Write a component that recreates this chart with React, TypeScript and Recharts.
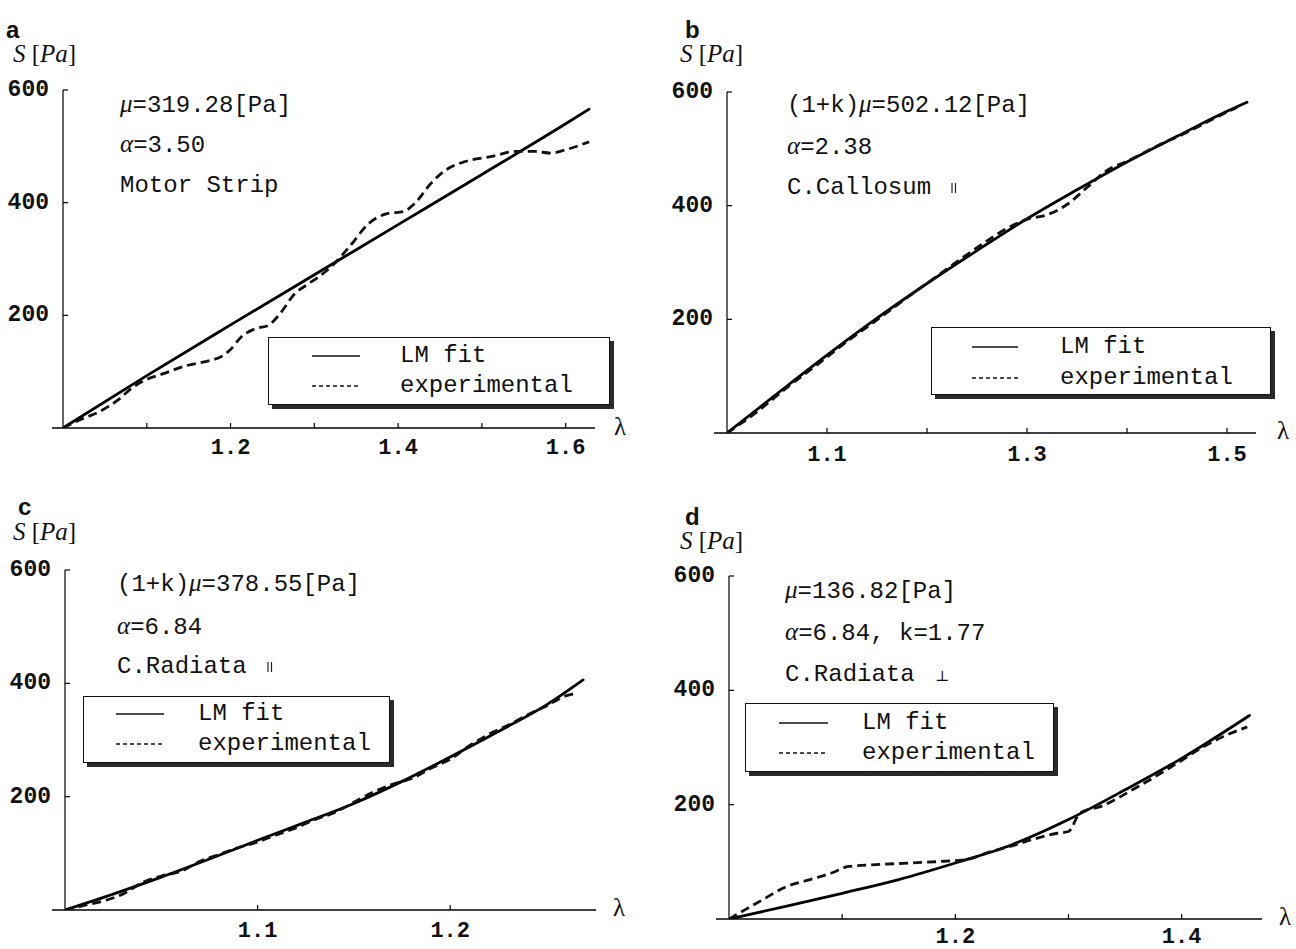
import React from 'react';
import { LineChart, Line, XAxis, YAxis, ReferenceLine, Legend } from 'recharts';

// ---------- Panel a : Motor Strip ----------
const lambdaFitA = [1.0, 1.1, 1.2, 1.3, 1.4, 1.5, 1.6, 1.628];
const stressFitA = [0, 93, 183, 272, 361, 450, 540, 566];
const lambdaExpA = [1.0, 1.019, 1.042, 1.065, 1.084, 1.098, 1.121, 1.148, 1.176, 1.188, 1.199, 1.213, 1.231, 1.245, 1.259, 1.277, 1.291, 1.305, 1.324, 1.342, 1.365, 1.388, 1.406, 1.42, 1.439, 1.457, 1.48, 1.512, 1.54, 1.563, 1.582, 1.6, 1.628];
const stressExpA = [0, 14, 28, 49, 73, 85, 97, 111, 120, 126, 138, 162, 177, 182, 203, 239, 254, 268, 292, 322, 363, 381, 384, 399, 434, 458, 473, 482, 491, 491, 488, 494, 508];
const xTicksA = [1.1, 1.2, 1.3, 1.4, 1.5, 1.6];
const xLabelsA = ['1.2', '1.4', '1.6'];
const notesA = ['μ=319.28[Pa]', 'α=3.50', 'Motor Strip'];

// ---------- Panel b : Corpus Callosum ----------
const lambdaFitB = [1.0, 1.05, 1.1, 1.15, 1.2, 1.25, 1.3, 1.35, 1.4, 1.45, 1.5, 1.52];
const stressFitB = [0, 69, 137, 202, 263, 321, 377, 428, 477, 522, 566, 582];
const lambdaExpB = [1.0, 1.03, 1.06, 1.09, 1.12, 1.15, 1.18, 1.21, 1.24, 1.26, 1.28, 1.3, 1.32, 1.34, 1.36, 1.38, 1.4, 1.43, 1.46, 1.49, 1.51];
const stressExpB = [0, 37, 80, 120, 161, 199, 238, 276, 314, 338, 360, 376, 384, 402, 432, 462, 478, 505, 529, 556, 573];
const xTicksB = [1.1, 1.2, 1.3, 1.4, 1.5];
const xLabelsB = ['1.1', '1.3', '1.5'];
const notesB = ['(1+k)μ=502.12[Pa]', 'α=2.38', 'C.Callosum ||'];

// ---------- Panel c : Corona Radiata parallel ----------
const lambdaFitC = [1.0, 1.025, 1.05, 1.075, 1.1, 1.125, 1.15, 1.175, 1.2, 1.225, 1.25, 1.269];
const stressFitC = [0, 28, 58, 90, 123, 155, 188, 227, 270, 315, 362, 406];
const lambdaExpC = [1.0, 1.01, 1.02, 1.03, 1.04, 1.05, 1.06, 1.07, 1.08, 1.09, 1.1, 1.11, 1.12, 1.13, 1.14, 1.15, 1.16, 1.17, 1.18, 1.19, 1.2, 1.21, 1.22, 1.23, 1.24, 1.25, 1.26, 1.266];
const stressExpC = [0, 8, 16, 28, 48, 60, 68, 86, 98, 110, 120, 133, 145, 160, 172, 190, 208, 222, 232, 250, 266, 290, 310, 326, 344, 360, 378, 382];
const xTicksC = [1.1, 1.2];
const xLabelsC = ['1.1', '1.2'];
const notesC = ['(1+k)μ=378.55[Pa]', 'α=6.84', 'C.Radiata ||'];

// ---------- Panel d : Corona Radiata perpendicular ----------
const lambdaFitD = [1.0, 1.05, 1.1, 1.15, 1.2, 1.25, 1.3, 1.35, 1.4, 1.46];
const stressFitD = [0, 22, 45, 69, 98, 130, 174, 226, 281, 356];
const lambdaExpD = [1.0, 1.014, 1.03, 1.05, 1.07, 1.09, 1.106, 1.13, 1.16, 1.19, 1.21, 1.23, 1.25, 1.27, 1.29, 1.3, 1.31, 1.33, 1.36, 1.39, 1.42, 1.44, 1.458];
const stressExpD = [0, 16, 34, 56, 68, 80, 92, 95, 98, 101, 104, 117, 128, 140, 150, 153, 185, 198, 230, 265, 302, 322, 336];
const xTicksD = [1.1, 1.2, 1.3, 1.4];
const xLabelsD = ['1.2', '1.4'];
const notesD = ['μ=136.82[Pa]', 'α=6.84, k=1.77', 'C.Radiata ⊥'];

const yTicks = [200, 400, 600];
const seriesNames = ['LM fit', 'experimental'];

const MONO = '"Liberation Mono", "DejaVu Sans Mono", monospace';
const SERIF = '"Liberation Serif", "DejaVu Serif", serif';
const SANS = '"Liberation Sans", Arial, sans-serif';

const toPoints = (xs: number[], ys: number[]) => xs.map((x, i) => ({ x, s: ys[i] }));

type Panel = {
  key: string;
  box: { left: number; top: number; width: number; height: number };
  margin: { top: number; left: number; right: number; bottom: number };
  xMax: number;
  axisStart: number;
  xTicks: number[];
  xLabels: string[];
  labelDy: number;
  fit: { x: number; s: number }[];
  exp: { x: number; s: number }[];
  legend: { left: number; top: number; width: number; height: number; sampleX: number; sampleW: number; textX: number; rows: number[] };
  letter: { left: number; cy: number };
  sLabel: { left: number; cy: number };
  notes: { left: number; cys: number[]; lines: string[] };
  lambda: { left: number; cy: number };
};

const Y_AXIS_W = 60;
const X_AXIS_H = 26;

const panels: Panel[] = [
  {
    key: 'a',
    box: { left: 0, top: 0, width: 648, height: 474 },
    margin: { top: 90, left: 63, right: 53, bottom: 46 },
    xMax: 1.635, axisStart: 0.987,
    xTicks: xTicksA, xLabels: xLabelsA, labelDy: 20,
    fit: toPoints(lambdaFitA, stressFitA), exp: toPoints(lambdaExpA, stressExpA),
    legend: { left: 268, top: 337, width: 342, height: 68, sampleX: 43, sampleW: 48, textX: 131, rows: [18, 48] },
    letter: { left: 6, cy: 30 }, sLabel: { left: 13, cy: 53 },
    notes: { left: 120, cys: [104, 144, 186], lines: notesA },
    lambda: { left: 614, cy: 426 },
  },
  {
    key: 'b',
    box: { left: 648, top: 0, width: 648, height: 474 },
    margin: { top: 92, left: 79, right: 40, bottom: 41 },
    xMax: 1.529, axisStart: 0.987,
    xTicks: xTicksB, xLabels: xLabelsB, labelDy: 22,
    fit: toPoints(lambdaFitB, stressFitB), exp: toPoints(lambdaExpB, stressExpB),
    legend: { left: 931, top: 327, width: 340, height: 68, sampleX: 40, sampleW: 46, textX: 128, rows: [19, 50] },
    letter: { left: 685, cy: 30 }, sLabel: { left: 680, cy: 53 },
    notes: { left: 787, cys: [104, 146, 188], lines: notesB },
    lambda: { left: 1277, cy: 430 },
  },
  {
    key: 'c',
    box: { left: 0, top: 474, width: 648, height: 475 },
    margin: { top: 96, left: 65, right: 52, bottom: 39 },
    xMax: 1.2757, axisStart: 0.9933,
    xTicks: xTicksC, xLabels: xLabelsC, labelDy: 21,
    fit: toPoints(lambdaFitC, stressFitC), exp: toPoints(lambdaExpC, stressExpC),
    legend: { left: 83, top: 696, width: 307, height: 67, sampleX: 32, sampleW: 48, textX: 114, rows: [17, 47] },
    letter: { left: 18, cy: 507 }, sLabel: { left: 13, cy: 531 },
    notes: { left: 117, cys: [583, 626, 667], lines: notesC },
    lambda: { left: 613, cy: 907 },
  },
  {
    key: 'd',
    box: { left: 648, top: 474, width: 648, height: 475 },
    margin: { top: 102, left: 81, right: 34, bottom: 30 },
    xMax: 1.471, axisStart: 0.9885,
    xTicks: xTicksD, xLabels: xLabelsD, labelDy: 18,
    fit: toPoints(lambdaFitD, stressFitD), exp: toPoints(lambdaExpD, stressExpD),
    legend: { left: 745, top: 703, width: 309, height: 69, sampleX: 33, sampleW: 49, textX: 116, rows: [19, 49] },
    letter: { left: 685, cy: 517 }, sLabel: { left: 680, cy: 540 },
    notes: { left: 785, cys: [590, 632, 675], lines: notesD },
    lambda: { left: 1279, cy: 916 },
  },
];

const YTick = (props: any) => {
  const { x, y, payload } = props;
  return (
    <g>
      <line x1={x} x2={x + 5} y1={y} y2={y} stroke="#000" strokeWidth={1.2} />
      <text x={x - 14} y={y} textAnchor="end" dominantBaseline="central" fontFamily={MONO} fontWeight="bold" fontSize={23} fill="#111">
        {payload.value}
      </text>
    </g>
  );
};

const makeXTick = (labels: string[], dy: number) => (props: any) => {
  const { x, y, payload } = props;
  const txt = Number(payload.value).toFixed(1);
  return (
    <g>
      <line x1={x} x2={x} y1={y} y2={y - 5} stroke="#000" strokeWidth={1.2} />
      {labels.includes(txt) ? (
        <text x={x} y={y + dy} textAnchor="middle" dominantBaseline="central" fontFamily={MONO} fontWeight="bold" fontSize={22} fill="#111">
          {txt}
        </text>
      ) : null}
    </g>
  );
};

const renderNote = (s: string) => {
  const out: React.ReactNode[] = [];
  const chars = Array.from(s);
  for (let i = 0; i < chars.length; i++) {
    const ch = chars[i];
    if (ch === 'μ' || ch === 'α') {
      out.push(
        <span key={i} style={{ fontFamily: SERIF, fontStyle: 'italic', fontSize: 25 }}>
          {ch}
        </span>
      );
    } else if (ch === '|' && chars[i + 1] === '|') {
      out.push(
        <span key={i} style={{ display: 'inline-block', marginLeft: 6, verticalAlign: 'middle' }}>
          <svg width={6} height={12} style={{ display: 'block' }}>
            <line x1={1} x2={1} y1={1} y2={11} stroke="#222" strokeWidth={1.2} />
            <line x1={4.5} x2={4.5} y1={1} y2={11} stroke="#222" strokeWidth={1.2} />
          </svg>
        </span>
      );
      i++;
    } else if (ch === '⊥') {
      out.push(
        <span key={i} style={{ fontFamily: SERIF, fontSize: 15, marginLeft: 6 }}>
          {ch}
        </span>
      );
    } else {
      out.push(<span key={i}>{ch}</span>);
    }
  }
  return out;
};

const makeLegend = (p: Panel) => (props: any) => {
  const L = p.legend;
  const items = (props && props.payload && props.payload.length ? props.payload.map((e: any) => e.value) : seriesNames) as string[];
  return (
    <div
      style={{
        position: 'relative',
        width: L.width,
        height: L.height,
        boxSizing: 'border-box',
        background: '#fff',
        border: '1.5px solid #111',
        boxShadow: '4px 4px 0 #2a2a2a',
      }}
    >
      {items.map((name, i) => (
        <React.Fragment key={name}>
          <svg style={{ position: 'absolute', left: L.sampleX, top: L.rows[i] - 3 }} width={L.sampleW} height={6}>
            <line x1={0} x2={L.sampleW} y1={3} y2={3} stroke="#111" strokeWidth={1.3} strokeDasharray={i === 1 ? '4 3' : undefined} />
          </svg>
          <div
            style={{
              position: 'absolute',
              left: L.textX,
              top: L.rows[i],
              transform: 'translateY(-50%)',
              fontFamily: MONO,
              fontSize: 24,
              lineHeight: 1,
              color: '#111',
              whiteSpace: 'nowrap',
            }}
          >
            {name}
          </div>
        </React.Fragment>
      ))}
    </div>
  );
};

const PanelChart = ({ p }: { p: Panel }) => {
  const XTick = makeXTick(p.xLabels, p.labelDy);
  const margin = {
    top: p.margin.top,
    right: p.margin.right,
    left: p.margin.left - Y_AXIS_W,
    bottom: p.margin.bottom - X_AXIS_H,
  };
  return (
    <div style={{ position: 'absolute', left: p.box.left, top: p.box.top, width: p.box.width, height: p.box.height }}>
      <LineChart width={p.box.width} height={p.box.height} margin={margin}>
        <XAxis
          type="number"
          dataKey="x"
          domain={[1, p.xMax]}
          ticks={p.xTicks}
          interval={0}
          allowDataOverflow
          axisLine={false}
          tickLine={false}
          tickSize={0}
          tickMargin={0}
          height={X_AXIS_H}
          tick={XTick}
        />
        <YAxis
          type="number"
          domain={[0, 600]}
          ticks={yTicks}
          interval={0}
          allowDataOverflow
          axisLine={{ stroke: '#000', strokeWidth: 1.2 }}
          tickLine={false}
          tickSize={0}
          tickMargin={0}
          width={Y_AXIS_W}
          tick={YTick}
        />
        <ReferenceLine
          segment={[{ x: p.axisStart, y: 0 }, { x: p.xMax, y: 0 }]}
          stroke="#000"
          strokeWidth={1.3}
          ifOverflow="visible"
        />
        <Line
          data={p.fit}
          dataKey="s"
          name={seriesNames[0]}
          type="monotone"
          stroke="#000"
          strokeWidth={2.8}
          strokeLinecap="round"
          dot={false}
          activeDot={false}
          isAnimationActive={false}
        />
        <Line
          data={p.exp}
          dataKey="s"
          name={seriesNames[1]}
          type="monotone"
          stroke="#111"
          strokeWidth={2.8}
          strokeDasharray="9 5"
          dot={false}
          activeDot={false}
          isAnimationActive={false}
        />
        <Legend
          layout="horizontal"
          verticalAlign="middle"
          align="center"
          content={makeLegend(p)}
          wrapperStyle={{
            left: p.legend.left - p.box.left,
            top: p.legend.top - p.box.top,
            width: p.legend.width + 6,
            height: p.legend.height + 6,
          }}
        />
      </LineChart>
    </div>
  );
};

const centered = (left: number, cy: number): React.CSSProperties => ({
  position: 'absolute',
  left,
  top: cy,
  transform: 'translateY(-50%)',
  lineHeight: 1,
  whiteSpace: 'nowrap',
});

export default function App() {
  return (
    <div style={{ position: 'absolute', left: 0, top: 0, width: 1296, height: 949, background: '#fff', overflow: 'hidden', color: '#111' }}>
      {panels.map((p) => (
        <PanelChart key={p.key} p={p} />
      ))}
      {panels.map((p) => (
        <React.Fragment key={'t' + p.key}>
          <div style={{ ...centered(p.letter.left, p.letter.cy), fontFamily: SANS, fontWeight: 'bold', fontSize: 24 }}>{p.key}</div>
          <div style={{ ...centered(p.sLabel.left, p.sLabel.cy), fontFamily: SERIF, fontSize: 25 }}>
            <span style={{ fontStyle: 'italic' }}>S</span> [<span style={{ fontStyle: 'italic' }}>Pa</span>]
          </div>
          <div style={{ ...centered(p.lambda.left, p.lambda.cy), fontFamily: SERIF, fontSize: 25 }}>λ</div>
          {p.notes.lines.map((line, i) => (
            <div key={i} style={{ ...centered(p.notes.left, p.notes.cys[i]), fontFamily: MONO, fontSize: 24 }}>
              {renderNote(line)}
            </div>
          ))}
        </React.Fragment>
      ))}
    </div>
  );
}
